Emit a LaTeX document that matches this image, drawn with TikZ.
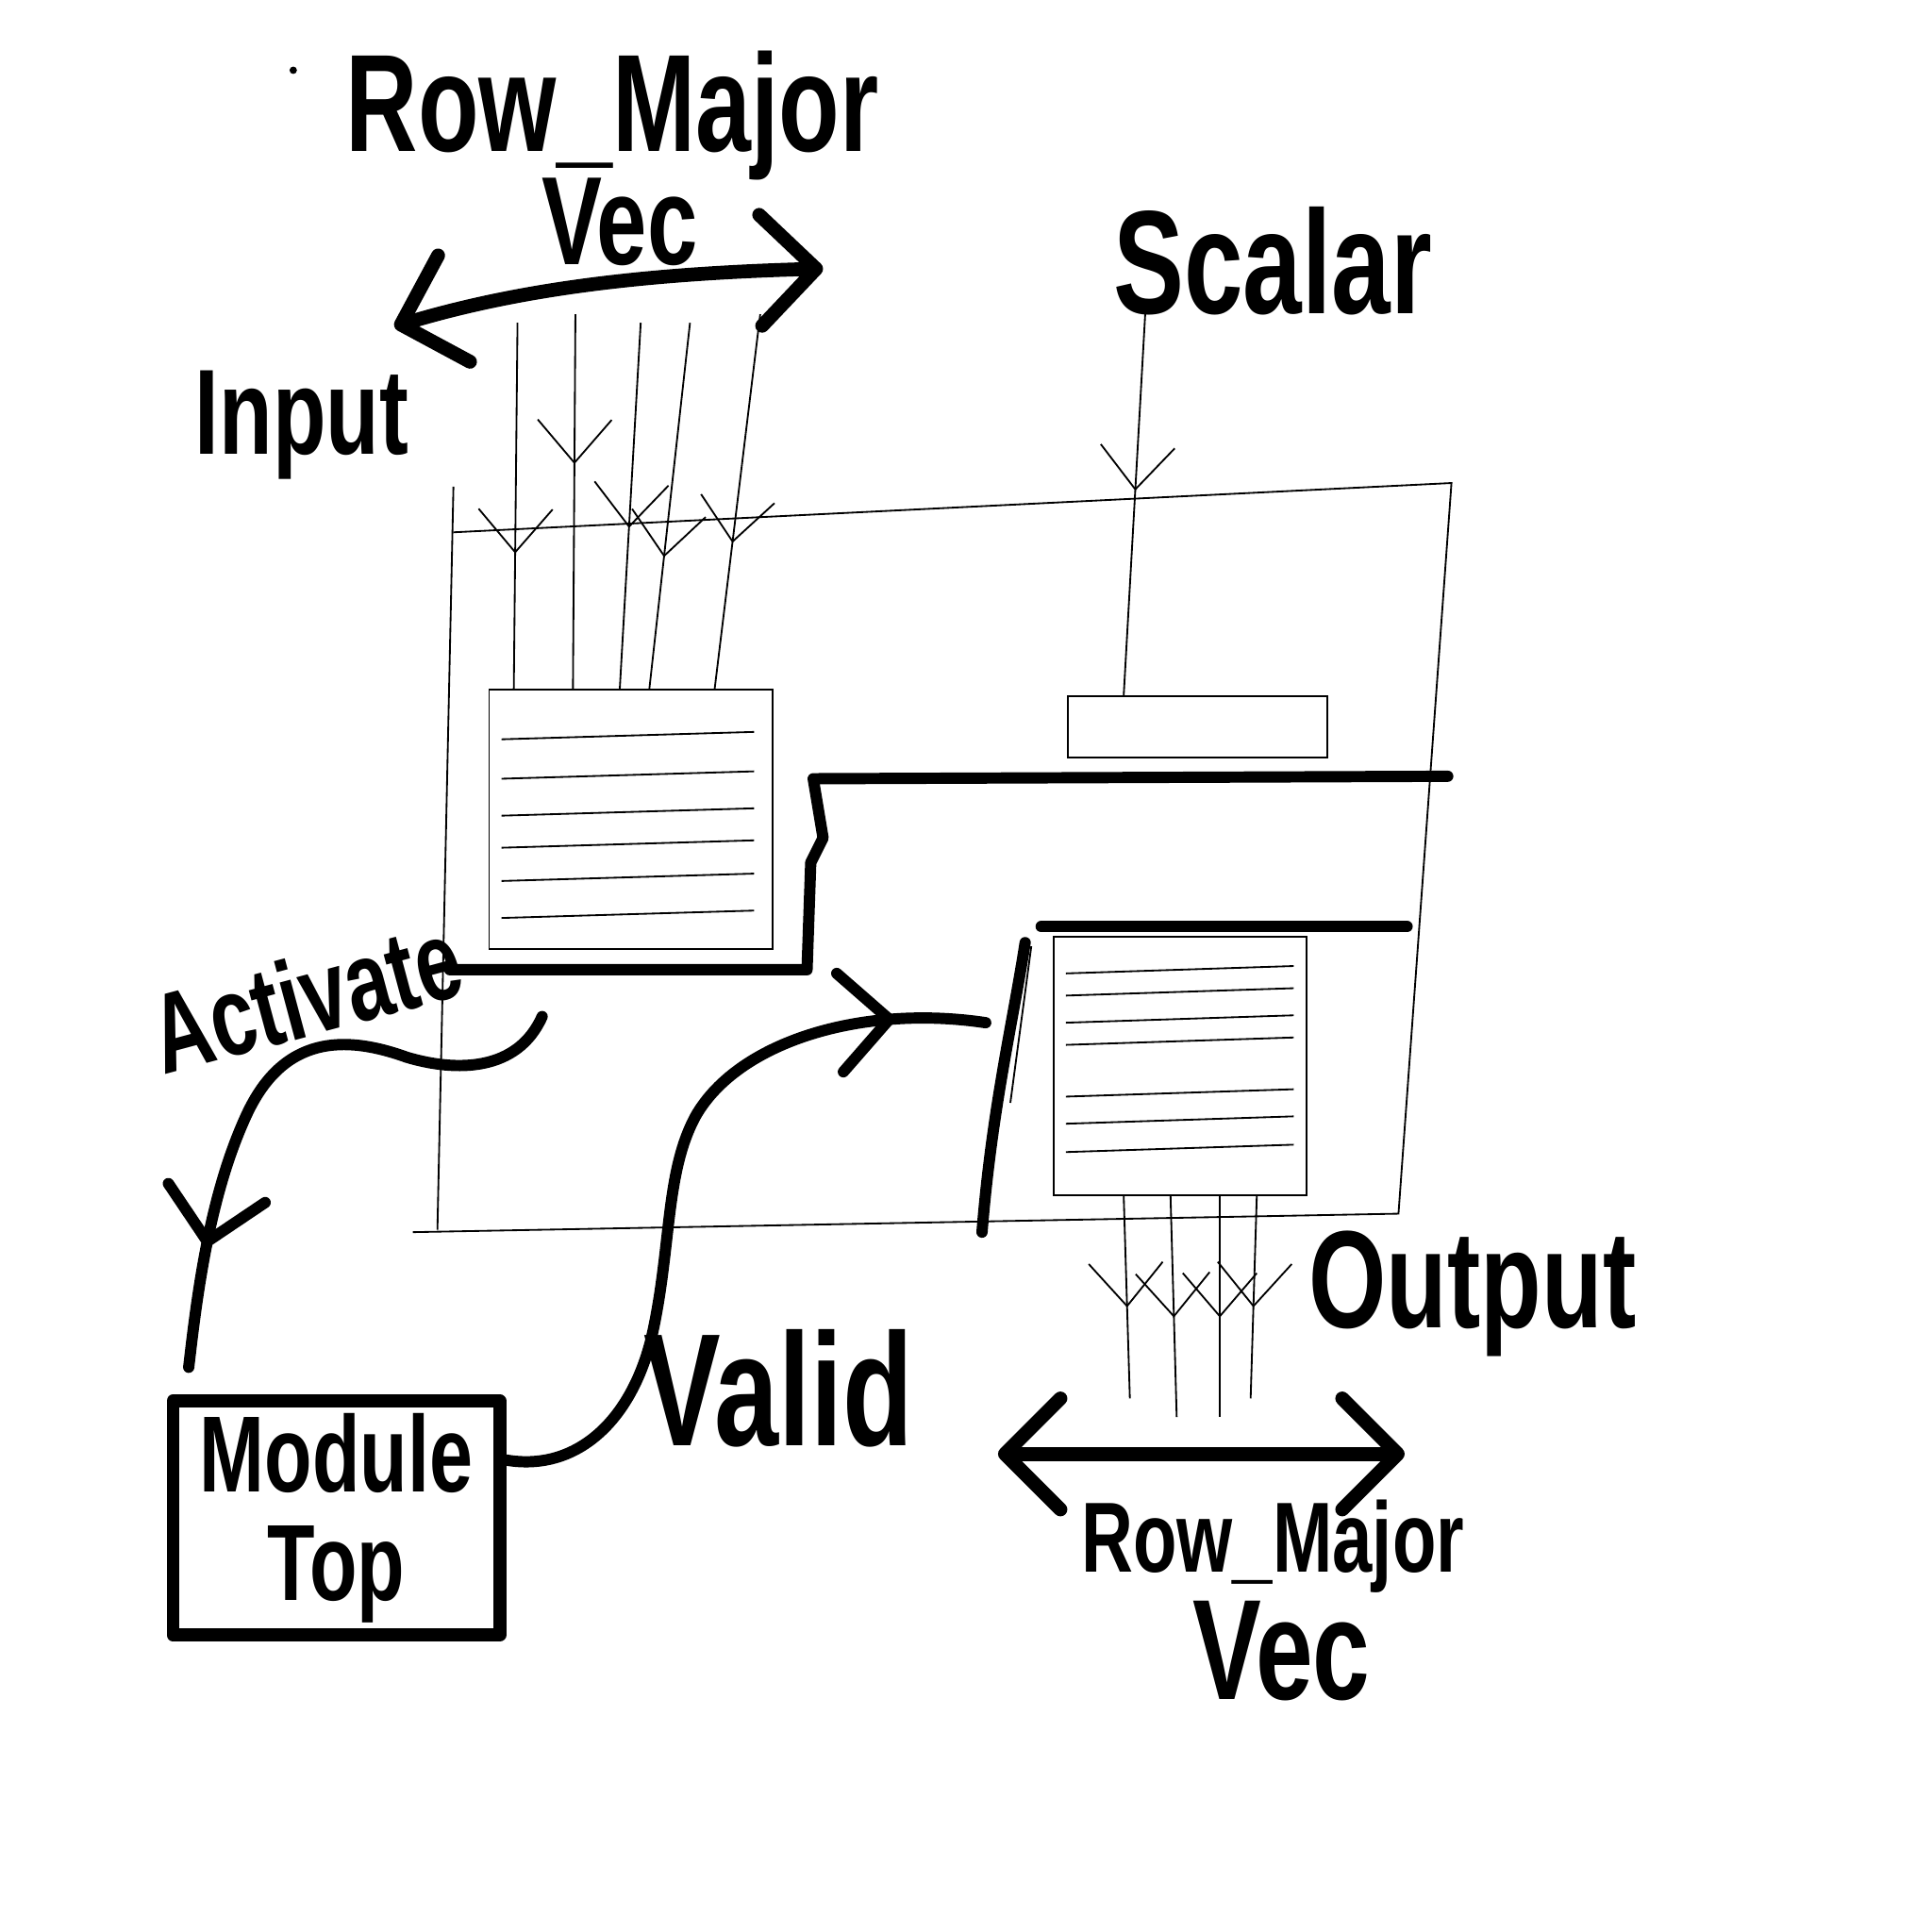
\documentclass[tikz,border=0pt]{standalone}
\usepackage{fontspec}
\newfontfamily\handfont[FakeStretch=0.72]{Liberation Sans}
\usetikzlibrary{arrows.meta, decorations.markings}

\begin{document}
\begin{tikzpicture}[x=0.01cm, y=-0.01cm,
    thinline/.style={line width=0.4pt},
    marker/.style={line width=2.6pt, line cap=round, line join=round},
    hand/.style={font=\handfont\bfseries\fontsize{#1}{#1}\selectfont, inner sep=0pt},
    midarrow/.style={postaction={decorate, decoration={markings,
        mark=at position #1 with {\arrow{Straight Barb[length=0.35cm, width=0.6cm]}}}}},
    bigarrow/.style={postaction={decorate, decoration={markings,
        mark=at position #1 with {\arrow{Straight Barb[length=0.4cm, width=0.8cm, round]}}}}},
    bigheads/.style={marker, line width=3.2pt,
        {Straight Barb[length=0.45cm, width=0.9cm, round]}-{Straight Barb[length=0.45cm, width=0.9cm, round]}}]
    \fill[white] (0,0) rectangle (1568,1568);
    \useasboundingbox (0,0) rectangle (1568,1568);

    % Labels
    \node[hand=32] (rowmajorin) at (497,94) {Row\_Major};
    \node[hand=29] (vecin) at (503,180) {Vec};
    \node[hand=28] (input) at (245,345) {Input};
    \node[hand=34] (scalar) at (1033,212) {Scalar};
    \node[hand=26, rotate=15] (activate) at (248,808) {Activate};
    \node[hand=37] (valid) at (632,1127) {Valid};
    \node[hand=32] (output) at (1195,1050) {Output};
    \node[hand=23] (rowmajorout) at (1033,1255) {Row\_Major};
    \node[hand=33] (vecout) at (1040,1340) {Vec};
    \fill (238,57) circle (3);

    % Outer frame
    \draw[thinline] (368,395) -- (355,998);
    \draw[thinline] (368,432) -- (1178,392) -- (1135,985) -- (335,1000);

    % Buffers
    \node[draw, thinline, minimum width=2.3cm, minimum height=2.1cm] (inbuf) at (512,665) {};
    \node[draw, thinline, minimum width=2.1cm, minimum height=0.5cm] (scalarbuf) at (972,590) {};
    \node[draw, thinline, minimum width=2.05cm, minimum height=2.1cm] (outbuf) at (958,865) {};
    \foreach \ly in {600,632,662,688,715,745}
        \draw[thinline] (407,\ly) -- (612,\ly-6);
    \foreach \ly in {790,808,830,848,890,912,935}
        \draw[thinline] (865,\ly) -- (1050,\ly-6);

    % Input row vector
    \foreach \xa/\ya/\xb/\p [count=\i] in {420/262/417/0.63, 467/255/465/0.40, 520/262/503/0.56, 560/262/527/0.64, 617/255/580/0.61} {
        \coordinate (vin\i) at (\xa,\ya);
        \draw[thinline, midarrow=\p] (vin\i) -- (inbuf.north -| \xb,0);
    }
    \coordinate (vinleft) at (320,265);
    \coordinate (vinright) at (668,218);
    \draw[bigheads] (vinleft) .. controls (420,235) and (520,222) .. (vinright);

    % Scalar
    \coordinate (sin) at (930,245);
    \draw[thinline, midarrow=0.48] (sin) -- (scalarbuf.north -| 912,0);

    % Output row vector
    \foreach \xa/\xb/\yb [count=\i] in {912/917/1135, 950/955/1150, 990/990/1150, 1020/1015/1135} {
        \coordinate (vout\i) at (\xb,\yb);
        \draw[thinline, midarrow=0.55] (outbuf.south -| \xa,0) -- (vout\i);
    }
    \coordinate (voutleft) at (810,1180);
    \coordinate (voutright) at (1140,1180);
    \draw[bigheads] (voutleft) -- (voutright);

    % Control boundaries
    \draw[marker] (365,787) -- (655,787) -- (658,700) -- (668,680) -- (660,632) -- (1175,630);
    \draw[marker] (845,752) -- (1142,752);
    \draw[marker] (797,1000) .. controls (805,900) and (822,830) .. (832,765);
    \draw[thinline] (837,768) -- (820,895);

    % Module
    \node[draw, marker, line width=3pt, hand=25, align=center, minimum width=2.65cm, minimum height=1.9cm] (moduletop) at (273,1232) {Module\\Top};

    % Activate and Valid
    \coordinate (actstart) at (440,825);
    \draw[marker, bigarrow=0.8] (actstart) .. controls (420,870) and (370,870) .. (330,858)
        .. controls (280,840) and (230,840) .. (200,905)
        .. controls (170,970) and (160,1050) .. ([xshift=0.18cm, yshift=0.22cm]moduletop.north west);
    \coordinate (validend) at (800,830);
    \draw[marker, bigarrow=0.88] ([yshift=0.47cm]moduletop.east) .. controls (470,1195) and (515,1150) .. (530,1080)
        .. controls (545,1010) and (540,950) .. (565,905)
        .. controls (600,845) and (700,815) .. (validend);
\end{tikzpicture}
\end{document}
